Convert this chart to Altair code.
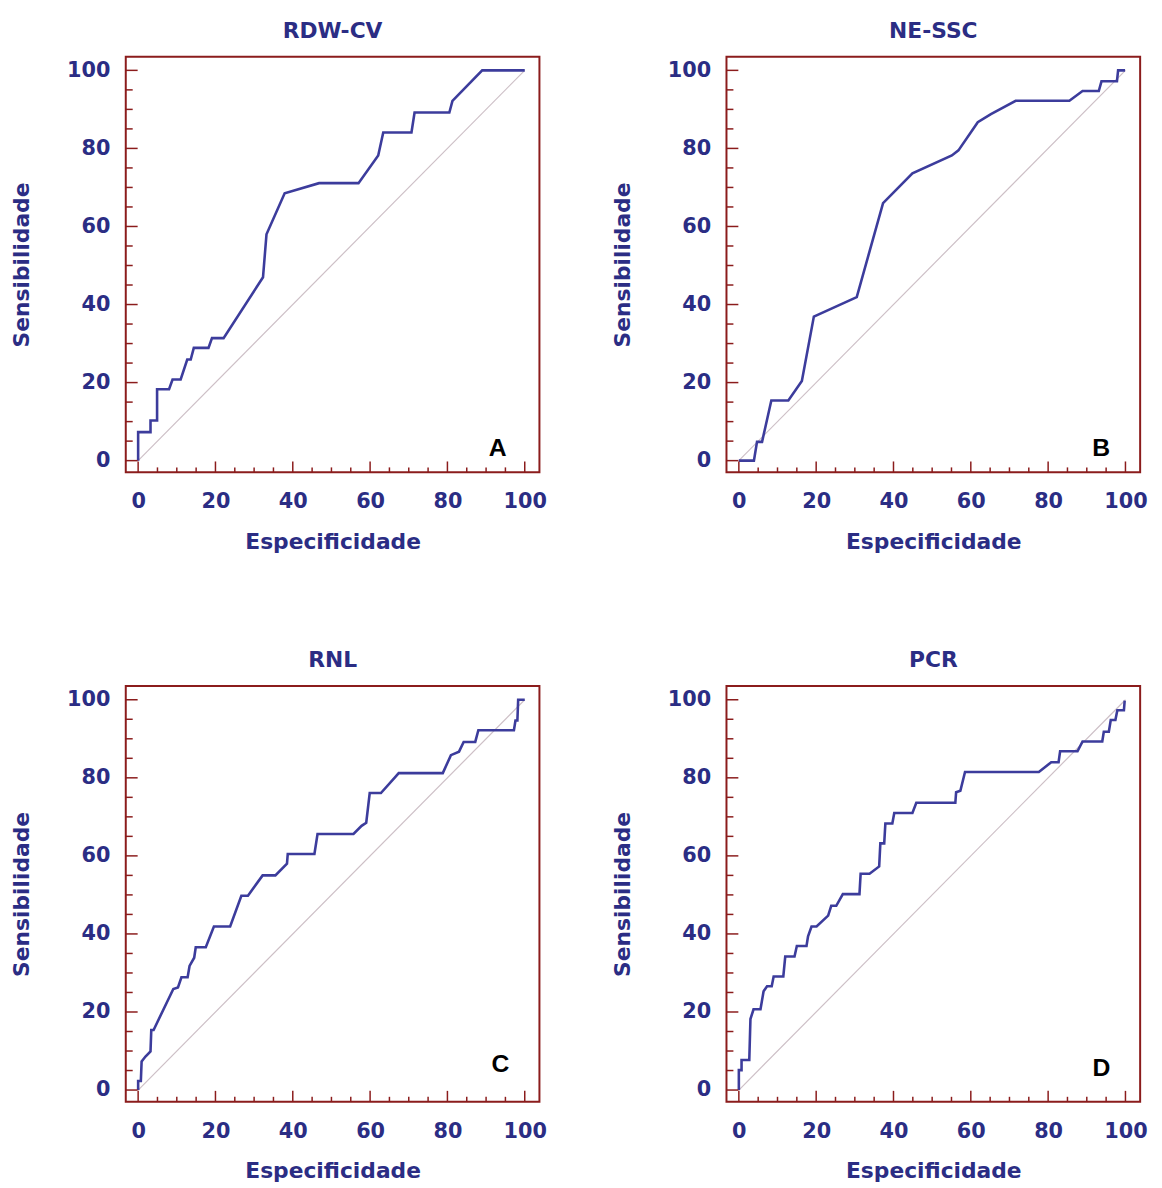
import altair as alt
import pandas as pd

# ---------------- data ----------------
titles = ["RDW-CV", "NE-SSC", "RNL", "PCR"]
letters = ["A", "B", "C", "D"]

a_x = [0, 0, 3.2, 3.2, 4.9, 4.9, 8.0, 8.9, 11.0, 12.7, 13.6, 14.4, 18.2, 19.1, 22.1,
       32.3, 33.2, 37.9, 46.8, 57.0, 62.1, 63.4, 70.7, 71.5, 80.5, 81.3, 89.0, 100]
a_y = [0, 7.3, 7.3, 10.3, 10.3, 18.3, 18.3, 20.8, 20.8, 25.9, 25.9, 28.9, 28.9, 31.4, 31.4,
       47.0, 58.0, 68.5, 71.1, 71.1, 78.2, 84.1, 84.1, 89.2, 89.2, 92.2, 100, 100]

b_x = [0, 3.9, 4.7, 6.0, 8.4, 12.8, 16.3, 19.4, 30.5, 37.3, 44.9, 55.1, 56.8, 61.8, 65.2,
       71.6, 85.5, 88.9, 93.1, 93.8, 97.8, 98.1, 99.9]
b_y = [0, 0, 4.8, 4.8, 15.4, 15.4, 20.4, 36.9, 41.9, 66.0, 73.6, 78.2, 79.5, 86.7, 88.8,
       92.2, 92.2, 94.7, 94.7, 97.2, 97.2, 100, 100]

c_x = [0, 0, 0.7, 0.9, 1.9, 3.2, 3.4, 4.0, 9.1, 10.3, 11.2, 12.8, 13.3, 14.5, 14.9, 17.5,
       19.6, 23.8, 26.7, 28.4, 32.2, 35.5, 38.5, 38.7, 45.6, 46.4, 55.7, 57.8, 59.0, 59.9,
       62.8, 66.6, 67.4, 78.8, 80.9, 83.0, 84.2, 87.2, 88.0, 97.2, 97.6, 98.1, 98.3, 100]
c_y = [0, 2.3, 2.3, 7.3, 8.6, 9.9, 15.4, 15.4, 25.9, 26.3, 28.9, 28.9, 31.8, 33.9, 36.6, 36.6,
       41.9, 41.9, 49.8, 49.8, 55.0, 55.0, 58.0, 60.5, 60.5, 65.6, 65.6, 67.7, 68.5, 76.1,
       76.1, 80.3, 81.2, 81.2, 85.8, 86.7, 89.2, 89.2, 92.2, 92.2, 94.7, 94.7, 100, 100]

d_x = [0, 0, 0.7, 0.7, 2.7, 3.0, 3.8, 5.6, 6.4, 7.3, 8.5, 9.0, 11.5, 12.0, 14.4, 15.0, 17.5,
       17.9, 18.8, 20.1, 23.1, 23.9, 25.2, 26.9, 31.2, 31.5, 33.8, 36.3, 36.6, 37.6, 37.9,
       39.7, 40.2, 44.9, 45.9, 56.0, 56.2, 57.3, 58.5, 77.6, 80.8, 82.7, 83.1, 87.6, 88.9,
       94.0, 94.4, 95.7, 96.2, 97.4, 97.9, 99.6, 99.8]
d_y = [0, 5.1, 5.1, 7.7, 7.7, 18.2, 20.7, 20.7, 25.3, 26.6, 26.6, 29.1, 29.1, 34.2, 34.2,
       36.9, 36.9, 39.4, 41.9, 41.9, 44.7, 47.2, 47.2, 50.2, 50.2, 55.4, 55.4, 57.3, 63.2,
       63.2, 68.3, 68.3, 71.0, 71.0, 73.6, 73.6, 76.3, 76.7, 81.5, 81.5, 84.0, 84.0, 86.8,
       86.8, 89.3, 89.3, 91.8, 91.8, 94.8, 94.8, 97.3, 97.3, 99.8]

letter_x = [93.0, 93.7, 93.7, 93.8]
letter_y = [3.3, 3.3, 6.6, 5.6]

diag_vals = [0, 100]
major_ticks = [0, 20, 40, 60, 80, 100]
minor_ticks = [5, 10, 15, 25, 30, 35, 45, 50, 55, 65, 70, 75, 85, 90, 95]

series_x = [a_x, b_x, c_x, d_x]
series_y = [a_y, b_y, c_y, d_y]

# ---------------- style ----------------
W, H = 418, 420
NAVY = "#2b2d84"
LINE = "#3c3c9c"
FRAME = "#8b1c1c"
FONT = "DejaVu Sans"

xscale = alt.Scale(domain=[-3.2, 103.8], nice=False, zero=False)
yscale = alt.Scale(domain=[-3.0, 103.5], nice=False, zero=False)

xaxis = alt.Axis(values=major_ticks, ticks=False, domain=False, grid=False,
                 labelFont=FONT, labelFontSize=21, labelFontWeight="bold", labelColor=NAVY,
                 labelPadding=19, labelFlush=False,
                 title="Especificidade", titleFont=FONT, titleFontSize=22,
                 titleFontWeight="bold", titleColor=NAVY, titlePadding=20)
yaxis = alt.Axis(values=major_ticks, ticks=False, domain=False, grid=False,
                 labelFont=FONT, labelFontSize=21, labelFontWeight="bold", labelColor=NAVY,
                 labelPadding=16, labelFlush=False,
                 title="Sensibilidade", titleFont=FONT, titleFontSize=22,
                 titleFontWeight="bold", titleColor=NAVY, titlePadding=33)


def panel(i):
    roc_df = pd.DataFrame({"x": series_x[i], "y": series_y[i]})
    roc_df["o"] = range(len(roc_df))
    diag_df = pd.DataFrame({"x": diag_vals, "y": diag_vals})
    maj_df = pd.DataFrame({"v": major_ticks})
    min_df = pd.DataFrame({"v": minor_ticks})
    let_df = pd.DataFrame({"x": [letter_x[i]], "y": [letter_y[i]], "t": [letters[i]]})

    X = alt.X("x:Q", scale=xscale, axis=xaxis)
    Y = alt.Y("y:Q", scale=yscale, axis=yaxis)

    diag = alt.Chart(diag_df).mark_line(color="#cdbfc6", strokeWidth=1.2).encode(x=X, y=Y)
    roc = alt.Chart(roc_df).mark_line(color=LINE, strokeWidth=2.6).encode(
        x=X, y=Y, order="o:Q")

    xmaj = alt.Chart(maj_df).mark_rule(color=FRAME, strokeWidth=1.5).encode(
        x=alt.X("v:Q", scale=xscale, axis=xaxis), y=alt.value(H), y2=alt.value(H - 11))
    xmin = alt.Chart(min_df).mark_rule(color=FRAME, strokeWidth=1.5).encode(
        x=alt.X("v:Q", scale=xscale, axis=xaxis), y=alt.value(H), y2=alt.value(H - 5))
    ymaj = alt.Chart(maj_df).mark_rule(color=FRAME, strokeWidth=1.5).encode(
        y=alt.Y("v:Q", scale=yscale, axis=yaxis), x=alt.value(0), x2=alt.value(12))
    ymin = alt.Chart(min_df).mark_rule(color=FRAME, strokeWidth=1.5).encode(
        y=alt.Y("v:Q", scale=yscale, axis=yaxis), x=alt.value(0), x2=alt.value(7))

    letter = alt.Chart(let_df).mark_text(font="Liberation Sans", fontSize=25,
                                          fontWeight="bold", color="#000000",
                                          align="center", baseline="middle").encode(
        x=alt.X("x:Q", scale=xscale, axis=xaxis),
        y=alt.Y("y:Q", scale=yscale, axis=yaxis), text="t:N")

    return alt.layer(diag, roc, xmaj, xmin, ymaj, ymin, letter).properties(
        width=W, height=H,
        title=alt.TitleParams(titles[i], font=FONT, fontSize=22, fontWeight="bold",
                              color=NAVY, anchor="middle", frame="group", offset=14))


top = alt.hconcat(panel(0), panel(1), spacing=63)
bottom = alt.hconcat(panel(2), panel(3), spacing=63)
chart = alt.vconcat(top, bottom, spacing=96).properties(
    padding={"left": 2, "top": 5, "right": 5, "bottom": 5},
    background="white"
).configure_view(stroke=FRAME, strokeWidth=2)

chart.save("out.html", embed_options={"renderer": "svg", "actions": False})
